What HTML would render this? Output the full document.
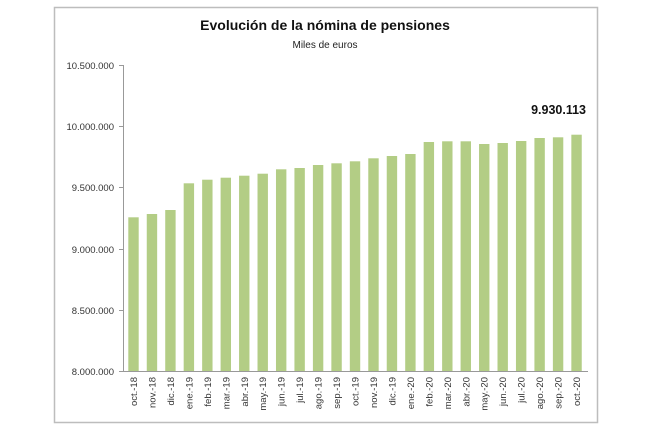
<!DOCTYPE html><html><head><style>body{margin:0;background:#fff}</style></head><body>
<svg width="650" height="433" xmlns="http://www.w3.org/2000/svg" font-family="Liberation Sans, sans-serif">
<rect x="54.5" y="7.5" width="543" height="415" fill="#fff" stroke="#bdbdbd" stroke-width="1.5"/>
<text x="325" y="30" text-anchor="middle" font-size="14" font-weight="bold" fill="#111">Evolución de la nómina de pensiones</text>
<text x="325" y="48" text-anchor="middle" font-size="10" fill="#222">Miles de euros</text>
<g stroke="#999" stroke-width="1">
<line x1="123.5" y1="65" x2="123.5" y2="371"/>
<line x1="123" y1="371.5" x2="588" y2="371.5"/>
<line x1="119" y1="65.5" x2="123" y2="65.5"/><line x1="119" y1="126.5" x2="123" y2="126.5"/><line x1="119" y1="187.5" x2="123" y2="187.5"/><line x1="119" y1="249.5" x2="123" y2="249.5"/><line x1="119" y1="310.5" x2="123" y2="310.5"/><line x1="119" y1="371.5" x2="123" y2="371.5"/>
</g>
<g font-size="9.5" fill="#333" text-anchor="end">
<text x="114" y="69">10.500.000</text><text x="114" y="130">10.000.000</text><text x="114" y="191">9.500.000</text><text x="114" y="253">9.000.000</text><text x="114" y="314">8.500.000</text><text x="114" y="375">8.000.000</text>
</g>
<g fill="#b3cd85" id="bars"></g>
<g id="lbl" font-size="9.5" fill="#333" text-anchor="end"></g>
<text x="586" y="114" text-anchor="end" font-size="12.5" font-weight="bold" fill="#111">9.930.113</text>
<script>
var t=[217.3,214,210,183.3,179.7,177.7,175.7,173.7,169.3,168,165,163.3,161.3,158.3,156,154,142,141.3,141.3,144,143,141,138,137.3,134.7];
var l=["oct.-18","nov.-18","dic.-18","ene.-19","feb.-19","mar.-19","abr.-19","may.-19","jun.-19","jul.-19","ago.-19","sep.-19","oct.-19","nov.-19","dic.-19","ene.-20","feb.-20","mar.-20","abr.-20","may.-20","jun.-20","jul.-20","ago.-20","sep.-20","oct.-20"];
var b=document.getElementById('bars'),g=document.getElementById('lbl'),ns="http://www.w3.org/2000/svg";
for(var i=0;i<25;i++){var x=128.3+i*18.46;var r=document.createElementNS(ns,'rect');r.setAttribute('x',x);r.setAttribute('y',t[i]);r.setAttribute('width',10.4);r.setAttribute('height',371-t[i]);b.appendChild(r);
var s=document.createElementNS(ns,'text');var cx=x+5.2+3.5;s.setAttribute('transform','translate('+cx+',377) rotate(-90)');s.textContent=l[i];g.appendChild(s);}
</script>
</svg></body></html>
